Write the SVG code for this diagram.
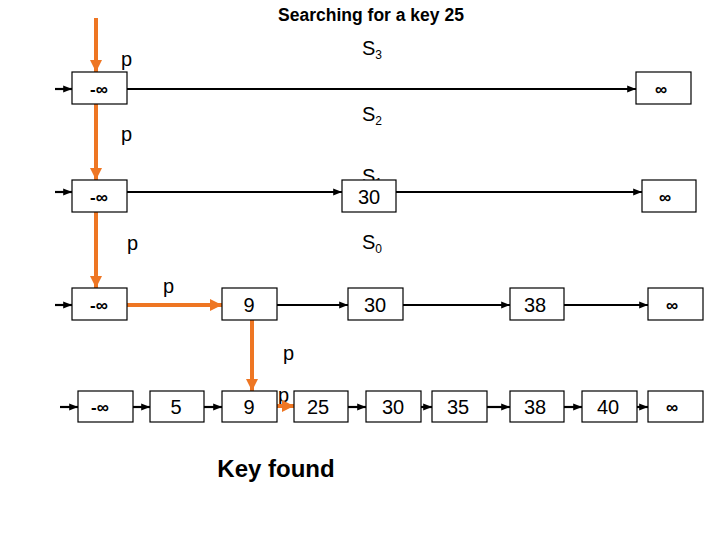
<svg xmlns="http://www.w3.org/2000/svg" width="720" height="540" viewBox="0 0 720 540">
<style>
.box{fill:#fff;stroke:#000;stroke-width:1.2}
.t{font-family:"Liberation Sans",Arial,sans-serif;font-size:20px;text-anchor:middle}
.inf{font-family:"Liberation Sans",Arial,sans-serif;font-size:17px;font-weight:bold;text-anchor:middle}
.lbl{font-family:"Liberation Sans",Arial,sans-serif;font-size:20px}
.ln{stroke:#000;stroke-width:2.2;fill:none}
.or{stroke:#EE7623;stroke-width:4;fill:none}
</style>
<defs>
<marker id="ab" viewBox="0 0 10 10" refX="10" refY="5" markerWidth="4" markerHeight="4" orient="auto" markerUnits="strokeWidth"><path d="M0,1 L10,5 L0,9 z" fill="#000"/></marker>
<marker id="ao" viewBox="0 0 10 10" refX="10" refY="5" markerWidth="3" markerHeight="3" orient="auto" markerUnits="strokeWidth"><path d="M0,0 L10,5 L0,10 z" fill="#EE7623"/></marker>
</defs>
<rect width="720" height="540" fill="#fff"/>
<text x="371" y="21" font-family="Liberation Sans,Arial,sans-serif" font-size="17.5" font-weight="bold" text-anchor="middle">Searching for a key 25</text>
<g id="labels" class="lbl">
<text x="362" y="55">S<tspan font-size="12" dy="4">3</tspan></text>
<text x="362" y="121">S<tspan font-size="12" dy="4">2</tspan></text>
<text x="362" y="183">S<tspan font-size="12" dy="4">1</tspan></text>
<text x="362" y="249">S<tspan font-size="12" dy="4">0</tspan></text>
<text x="121" y="66">p</text>
<text x="121" y="141">p</text>
<text x="127" y="250">p</text>
<text x="163" y="293">p</text>
<text x="283" y="360">p</text>
<text x="278" y="402">p</text>
</g>
<g id="connectors">
<line class="ln" x1="55" y1="89" x2="72" y2="89" marker-end="url(#ab)"/>
<line class="ln" x1="126" y1="89" x2="636" y2="89" marker-end="url(#ab)"/>
<line class="ln" x1="55" y1="192" x2="72" y2="192" marker-end="url(#ab)"/>
<line class="ln" x1="126" y1="192" x2="342" y2="192" marker-end="url(#ab)"/>
<line class="ln" x1="396" y1="192" x2="642" y2="192" marker-end="url(#ab)"/>
<line class="ln" x1="55" y1="305" x2="72" y2="305" marker-end="url(#ab)"/>
<line class="ln" x1="277" y1="305" x2="348" y2="305" marker-end="url(#ab)"/>
<line class="ln" x1="403" y1="305" x2="510" y2="305" marker-end="url(#ab)"/>
<line class="ln" x1="564" y1="305" x2="648" y2="305" marker-end="url(#ab)"/>
<line class="ln" x1="60" y1="407" x2="78" y2="407" marker-end="url(#ab)"/>
<line class="ln" x1="133" y1="407" x2="150" y2="407" marker-end="url(#ab)"/>
<line class="ln" x1="204" y1="407" x2="222" y2="407" marker-end="url(#ab)"/>
<line class="ln" x1="348" y1="407" x2="366" y2="407" marker-end="url(#ab)"/>
<line class="ln" x1="421" y1="407" x2="432" y2="407" marker-end="url(#ab)"/>
<line class="ln" x1="487" y1="407" x2="510" y2="407" marker-end="url(#ab)"/>
<line class="ln" x1="564" y1="407" x2="582" y2="407" marker-end="url(#ab)"/>
<line class="ln" x1="637" y1="407" x2="648" y2="407" marker-end="url(#ab)"/>
<line class="or" x1="96" y1="18" x2="96" y2="72" marker-end="url(#ao)"/>
<line class="or" x1="96" y1="104" x2="96" y2="180" marker-end="url(#ao)"/>
<line class="or" x1="96" y1="212" x2="96" y2="288" marker-end="url(#ao)"/>
<line class="or" x1="126" y1="305" x2="222" y2="305" marker-end="url(#ao)"/>
<line class="or" x1="252" y1="320" x2="252" y2="391" marker-end="url(#ao)"/>
<line class="or" x1="277" y1="406" x2="294" y2="406" stroke-width="5" marker-end="url(#ao)"/>
</g>
<g id="n3a"><rect class="box" x="72" y="72" width="55" height="32"/><text class="inf" x="99" y="95">-∞</text></g>
<g id="n3b"><rect class="box" x="636" y="72" width="55" height="32"/><text class="inf" x="661" y="95">∞</text></g>
<g id="n1a"><rect class="box" x="72" y="180" width="55" height="32"/><text class="inf" x="99" y="203">-∞</text></g>
<g id="n1b"><rect class="box" x="342" y="180" width="54" height="32"/><text class="t" x="369" y="204">30</text></g>
<g id="n1c"><rect class="box" x="642" y="180" width="54" height="32"/><text class="inf" x="665" y="203">∞</text></g>
<g id="n0a"><rect class="box" x="72" y="288" width="55" height="32"/><text class="inf" x="99" y="311">-∞</text></g>
<g id="n0b"><rect class="box" x="222" y="288" width="55" height="32"/><text class="t" x="249" y="312">9</text></g>
<g id="n0c"><rect class="box" x="348" y="288" width="55" height="32"/><text class="t" x="375" y="312">30</text></g>
<g id="n0d"><rect class="box" x="510" y="288" width="54" height="32"/><text class="t" x="535" y="312">38</text></g>
<g id="n0e"><rect class="box" x="648" y="288" width="55" height="32"/><text class="inf" x="672" y="311">∞</text></g>
<g id="b1"><rect class="box" x="78" y="391" width="55" height="31"/><text class="inf" x="100" y="413">-∞</text></g>
<g id="b2"><rect class="box" x="150" y="391" width="54" height="31"/><text class="t" x="176" y="414">5</text></g>
<g id="b3"><rect class="box" x="222" y="391" width="55" height="31"/><text class="t" x="249" y="414">9</text></g>
<g id="b4"><rect class="box" x="294" y="391" width="54" height="31"/><text class="t" x="318" y="414">25</text></g>
<g id="b5"><rect class="box" x="366" y="391" width="55" height="31"/><text class="t" x="393" y="414">30</text></g>
<g id="b6"><rect class="box" x="432" y="391" width="55" height="31"/><text class="t" x="458" y="414">35</text></g>
<g id="b7"><rect class="box" x="510" y="391" width="54" height="31"/><text class="t" x="535" y="414">38</text></g>
<g id="b8"><rect class="box" x="582" y="391" width="55" height="31"/><text class="t" x="608" y="414">40</text></g>
<g id="b9"><rect class="box" x="648" y="391" width="55" height="31"/><text class="inf" x="672" y="413">∞</text></g>
<text x="276" y="477" font-family="Liberation Sans,Arial,sans-serif" font-size="24" font-weight="bold" text-anchor="middle">Key found</text>
</svg>
